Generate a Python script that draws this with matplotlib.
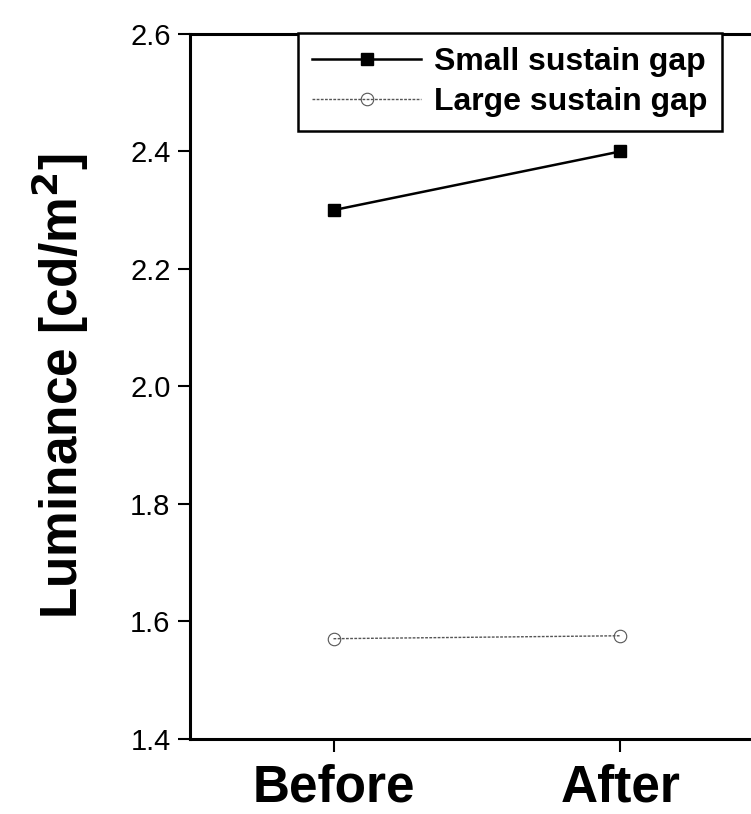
import numpy as np
import matplotlib
matplotlib.use("Agg")
import matplotlib.pyplot as plt

# --- data ---
stages = ["Before", "After"]
small_gap = [2.30, 2.40]
large_gap = [1.57, 1.575]
yticks = [1.4, 1.6, 1.8, 2.0, 2.2, 2.4, 2.6]

plt.rcParams['font.family'] = ['Liberation Sans', 'DejaVu Sans']

W, H = 751, 814
fig = plt.figure(figsize=(W / 100, H / 100), dpi=100)
# axes runs past the right edge of the figure, like the cropped scan
ax = fig.add_axes([190 / W, 1 - 738.5 / H, (764 - 190) / W, (738.5 - 34) / H])

x = np.arange(1, len(stages) + 1)
ax.plot(x, small_gap, color="black", lw=1.8, marker="s", markersize=9,
        label="Small sustain gap")
ax.plot(x, large_gap, color="#555555", lw=1.0, ls=(0, (2, 1)), marker="o",
        markersize=9, markerfacecolor="none", markeredgecolor="#555555",
        markeredgewidth=0.8, label="Large sustain gap")

ax.set_xlim(0.5, 2.5)
ax.set_ylim(1.4, 2.6)
ax.set_xticks(x)
ax.set_xticklabels(stages, fontsize=37, fontweight="bold")
ax.set_yticks(yticks)
ax.set_yticklabels([f"{v:.1f}" for v in yticks], fontsize=21)
ax.set_ylabel("Luminance [cd/m$^\\mathbf{2}$]", fontsize=37, fontweight="bold",
              labelpad=28)

for s in ax.spines.values():
    s.set_linewidth(2.2)
ax.tick_params(axis="both", direction="out", length=9, width=1.5, pad=5)
ax.tick_params(axis="x", pad=9)

leg = ax.legend(loc="upper left", bbox_to_anchor=(298 / W, 1 - 33 / H),
                bbox_transform=fig.transFigure, borderaxespad=0,
                fancybox=False, edgecolor="black", framealpha=1,
                borderpad=0.45, handlelength=3.4, handletextpad=0.4,
                labelspacing=0.3, prop={"size": 23, "weight": "bold"})
leg.get_frame().set_linewidth(1.8)

fig.savefig("out.png", dpi=100)
